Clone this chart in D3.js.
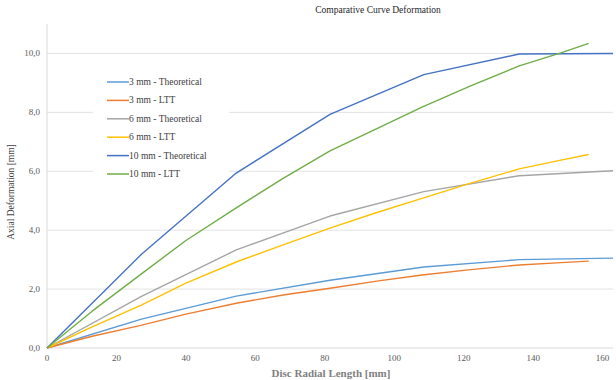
<!DOCTYPE html>
<html>
<head>
<meta charset="utf-8">
<script src="https://cdn.jsdelivr.net/npm/d3@7"></script>
<style>
  body { margin: 0; background: #fff; }
  text { font-family: "Liberation Serif", "DejaVu Serif", serif; }
</style>
</head>
<body>
<script>
var svgW = 616;
var svgH = 380;

// x positions (mm) of the theoretical points and the LTT points
var xTheo = [0, 27.2, 54.5, 81.5, 108.5, 136, 163];
var xLtt = [0, 13, 27, 40, 54.5, 68, 81.5, 95, 108, 122, 136, 148, 156];

var theo3 = [0, 0.98, 1.76, 2.3, 2.75, 3.0, 3.05];
var theo6 = [0, 1.75, 3.33, 4.48, 5.31, 5.85, 6.02];
var theo10 = [0, 3.18, 5.94, 7.93, 9.28, 9.98, 10.0];

var ltt3 = [0, 0.4, 0.77, 1.15, 1.52, 1.8, 2.03, 2.27, 2.48, 2.66, 2.82, 2.9, 2.95];
var ltt6 = [0, 0.72, 1.45, 2.2, 2.92, 3.5, 4.07, 4.6, 5.08, 5.6, 6.08, 6.38, 6.57];
var ltt10 = [0, 1.25, 2.5, 3.65, 4.76, 5.76, 6.69, 7.45, 8.18, 8.9, 9.58, 10.02, 10.34];

var xTicks = [0, 20, 40, 60, 80, 100, 120, 140, 160];
var yTicks = [0, 2, 4, 6, 8, 10];

var series = [
  { name: "3 mm - Theoretical", xs: xTheo, ys: theo3, color: "#5B9BD5" },
  { name: "3 mm - LTT", xs: xLtt, ys: ltt3, color: "#ED7D31" },
  { name: "6 mm - Theoretical", xs: xTheo, ys: theo6, color: "#A5A5A5" },
  { name: "6 mm - LTT", xs: xLtt, ys: ltt6, color: "#FFC000" },
  { name: "10 mm  - Theoretical", xs: xTheo, ys: theo10, color: "#4472C4" },
  { name: "10 mm - LTT", xs: xLtt, ys: ltt10, color: "#70AD47" }
];

var x = d3.scaleLinear().domain([0, 163]).range([47, 613]);
var y = d3.scaleLinear().domain([0, 11]).range([348, 24]);

var svg = d3.select("body").append("svg")
  .attr("width", svgW)
  .attr("height", svgH);

// gridlines
svg.selectAll("line.grid")
  .data(yTicks.slice(1))
  .enter()
  .append("line")
  .attr("class", "grid")
  .attr("x1", x(0))
  .attr("x2", x(163))
  .attr("y1", function(d) { return y(d); })
  .attr("y2", function(d) { return y(d); })
  .attr("stroke", "#e3e3e3")
  .attr("stroke-width", 1);

// axes lines
svg.append("line")
  .attr("x1", x(0)).attr("x2", x(0))
  .attr("y1", y(11)).attr("y2", y(0))
  .attr("stroke", "#d9d9d9");
svg.append("line")
  .attr("x1", x(0)).attr("x2", x(163))
  .attr("y1", y(0)).attr("y2", y(0))
  .attr("stroke", "#d9d9d9");

// tick labels
svg.selectAll("text.ytick")
  .data(yTicks)
  .enter()
  .append("text")
  .attr("class", "ytick")
  .attr("x", 40)
  .attr("y", function(d) { return y(d) + 3; })
  .attr("text-anchor", "end")
  .attr("font-size", "9px")
  .attr("fill", "#595959")
  .text(function(d) { return d3.format(".1f")(d).replace(".", ","); });

svg.selectAll("text.xtick")
  .data(xTicks)
  .enter()
  .append("text")
  .attr("class", "xtick")
  .attr("x", function(d) { return x(d); })
  .attr("y", 361)
  .attr("text-anchor", "middle")
  .attr("font-size", "9px")
  .attr("fill", "#595959")
  .text(function(d) { return d; });

// legend background (hides gridlines behind it)
svg.append("rect")
  .attr("x", 93)
  .attr("y", 64)
  .attr("width", 136)
  .attr("height", 118)
  .attr("fill", "#fff");

// lines
var line = d3.line()
  .x(function(d) { return x(d[0]); })
  .y(function(d) { return y(d[1]); });

svg.selectAll("path.series")
  .data(series)
  .enter()
  .append("path")
  .attr("class", "series")
  .attr("fill", "none")
  .attr("stroke", function(d) { return d.color; })
  .attr("stroke-width", 1.4)
  .attr("stroke-linejoin", "round")
  .attr("d", function(d) {
    return line(d.xs.map(function(v, i) { return [v, d.ys[i]]; }));
  });

// legend
var leg = svg.selectAll("g.leg")
  .data(series)
  .enter()
  .append("g")
  .attr("class", "leg")
  .attr("transform", function(d, i) { return "translate(107," + (82 + i * 18.4) + ")"; });

leg.append("line")
  .attr("x1", 0).attr("x2", 22)
  .attr("y1", 0).attr("y2", 0)
  .attr("stroke", function(d) { return d.color; })
  .attr("stroke-width", 1.5);

leg.append("text")
  .attr("x", 22)
  .attr("y", 3)
  .attr("font-size", "9.5px")
  .attr("fill", "#404040")
  .text(function(d) { return d.name; });

// titles
svg.append("text")
  .attr("x", 378)
  .attr("y", 13)
  .attr("text-anchor", "middle")
  .attr("font-size", "9.5px")
  .attr("fill", "#262626")
  .text("Comparative Curve Deformation");

svg.append("text")
  .attr("x", 331)
  .attr("y", 377)
  .attr("text-anchor", "middle")
  .attr("font-size", "11px")
  .attr("font-weight", "bold")
  .attr("fill", "#7f7f7f")
  .text("Disc Radial Length [mm]");

svg.append("text")
  .attr("transform", "translate(14,192) rotate(-90)")
  .attr("text-anchor", "middle")
  .attr("font-size", "9.5px")
  .attr("fill", "#404040")
  .text("Axial Deformation [mm]");
</script>
</body>
</html>
